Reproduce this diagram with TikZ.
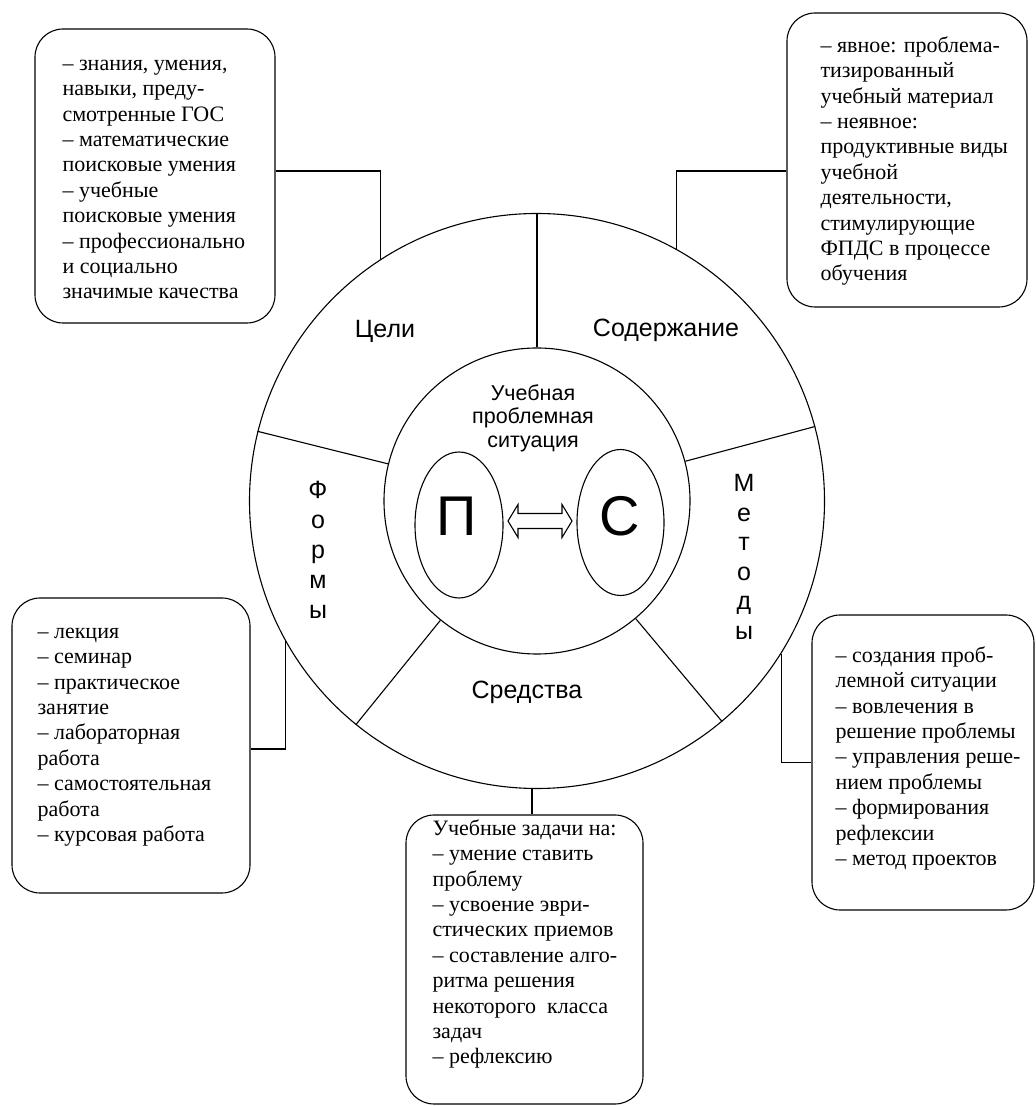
\documentclass[tikz,border=0pt]{standalone}
\usepackage{fontspec}
\setmainfont{Liberation Serif}
\setsansfont{Liberation Sans}
\usetikzlibrary{shapes.geometric}

\tikzset{
  box/.style={draw, rounded corners=28pt, inner sep=0pt},
  boxtext/.style={anchor=north west, align=left, inner sep=0pt, font=\fontsize{22}{25.4}\selectfont},
  sector/.style={font=\sffamily\fontsize{25}{30}\selectfont},
  oval/.style={draw, ellipse, inner sep=0pt, minimum height=146},
  bigletter/.style={font=\sffamily\fontsize{56}{60}\selectfont}
}

\begin{document}
\begin{tikzpicture}[x=1pt,y=1pt,line width=1.1pt]
  \useasboundingbox (0,0) rectangle (1036,1106);
  % wheel
  \node[draw, circle, minimum size=575, inner sep=0pt] (ring) at (537,605) {};
  \node[draw, circle, minimum size=306, inner sep=0pt] (core) at (537,605) {};
  \foreach \a in {90,166,231,310,15}
    \draw (core.\a) -- (ring.\a);
  \node[sector] (aims) at (385,775) {Цели};
  \node[sector] (subject) at (666,776) {Содержание};
  \node[sector] (tools) at (527,414) {Средства};
  \foreach \l [count=\i] in {Ф,о,р,м,ы}
    \node[sector, anchor=base] (fl\i) at (318,{607-30*(\i-1)}) {\l};
  \foreach \l [count=\i] in {М,е,т,о,д,ы}
    \node[sector, anchor=base] (ml\i) at (744,{614-29.5*(\i-1)}) {\l};
  % centre
  \node[align=center, font=\sffamily\fontsize{21.5}{23.5}\selectfont] (situation) at (533,688) {Учебная\\проблемная\\ситуация};
  \node[oval, minimum width=88] (pe) at (459,581) {};
  \node[oval, minimum width=87] (se) at (620.5,583.5) {};
  \node[bigletter] (p) at (457,590) {П};
  \node[bigletter] (s) at (620,590) {С};
  \draw (508,585) -- (518,601.5) -- (518,592.5) -- (562,592.5) -- (562,601.5) -- (572,585)
    -- (562,568.5) -- (562,577.5) -- (518,577.5) -- (518,568.5) -- cycle;
  % boxes
  \node[box, minimum width=240, minimum height=294] (goals) at (155,930) {};
  \node[box, minimum width=240, minimum height=294] (content) at (907,946) {};
  \node[box, minimum width=238, minimum height=295] (forms) at (131,360.5) {};
  \node[box, minimum width=222, minimum height=295] (methods) at (923,343.5) {};
  \node[box, minimum width=237, minimum height=289] (means) at (524.5,146.5) {};
  \node[boxtext] (goalstext) at (62,1054) {\strut– знания, умения,\\навыки, преду-\\смотренные ГОС\\– математические\\поисковые умения\\– учебные\\поисковые умения\\– профессионально\\и социально\\значимые качества};
  \node[boxtext] (contenttext) at (820,1072) {\strut– явное: проблема-\\тизированный\\учебный материал\\– неявное:\\продуктивные виды\\учебной\\деятельности,\\стимулирующие\\ФПДС в процессе\\обучения};
  \node[boxtext] (formstext) at (37,486) {\strut– лекция\\– семинар\\– практическое\\занятие\\– лабораторная\\работа\\– самостоятельная\\работа\\– курсовая работа};
  \node[boxtext] (methodstext) at (835,462) {\strut– создания проб-\\лемной ситуации\\– вовлечения в\\решение проблемы\\– управления реше-\\нием проблемы\\– формирования\\рефлексии\\– метод проектов};
  \node[boxtext] (meanstext) at (432,289) {\strut Учебные задачи на:\\– умение ставить\\проблему\\– усвоение эври-\\стических приемов\\– составление алго-\\ритма решения\\некоторого~ класса\\задач\\– рефлексию};
  % connectors
  \draw (ring.123) |- ([yshift=5]goals.east);
  \draw (ring.61) |- ([yshift=-11]content.west);
  \draw (ring.209) |- ([yshift=-3.5]forms.east);
  \draw (ring.328) |- (methods.west);
  \draw (ring.269) -- (ring.269 |- means.north);
\end{tikzpicture}
\end{document}
